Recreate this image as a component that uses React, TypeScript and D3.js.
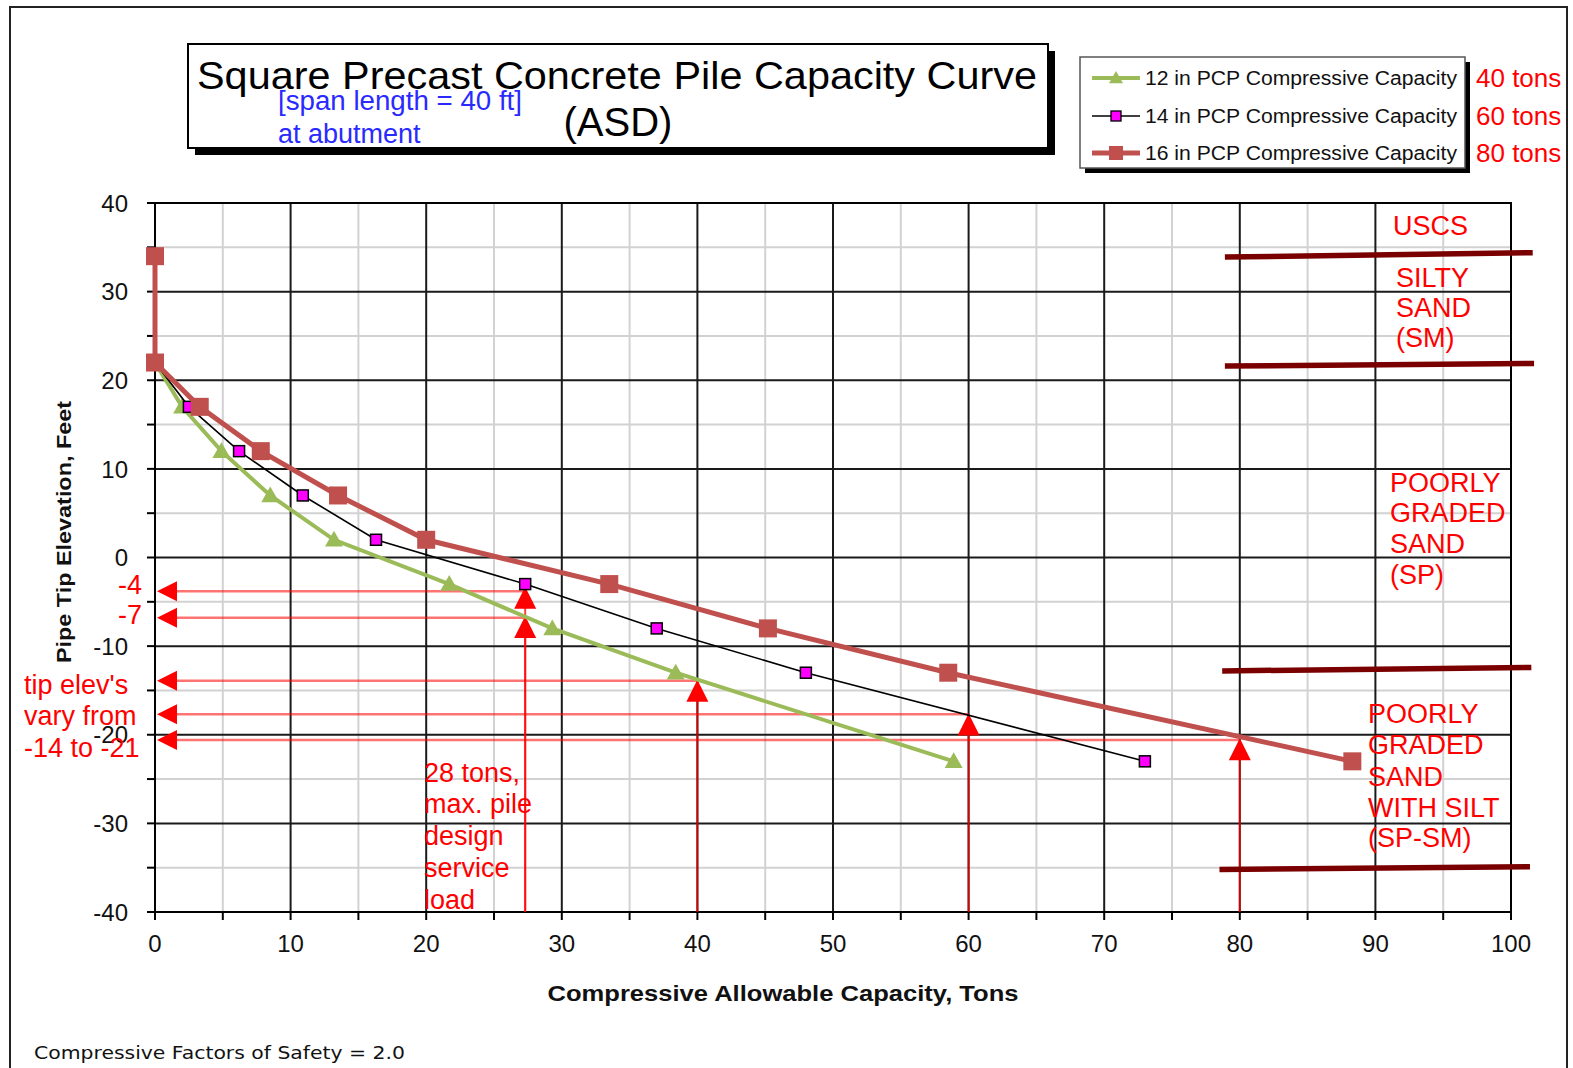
import React from "react";
import * as d3 from "d3";

const W = 1573;
const H = 1068;

// ---- data ----
const capacity12 = [0, 2.0, 4.9, 8.5, 13.2, 21.7, 29.3, 38.4, 58.9];
const elev12 = [22, 17, 12, 7, 2, -3, -8, -13, -23];
const capacity14 = [0, 2.5, 6.2, 10.9, 16.3, 27.3, 37.0, 48.0, 73.0];
const elev14 = [22, 17, 12, 7, 2, -3, -8, -13, -23];
const capacity16 = [0, 0, 3.3, 7.8, 13.5, 20.0, 33.5, 45.2, 58.5, 88.3];
const elev16 = [34, 22, 17, 12, 7, 2, -3, -8, -13, -23];

const xTicks = [0, 10, 20, 30, 40, 50, 60, 70, 80, 90, 100];
const yTicks = [-40, -30, -20, -10, 0, 10, 20, 30, 40];

const seriesNames = [
  "12 in PCP Compressive Capacity",
  "14 in PCP Compressive Capacity",
  "16 in PCP Compressive Capacity",
];
const seriesTons = ["40 tons", "60 tons", "80 tons"];

// annotation guide lines (elevation, capacity where it ends)
const guideElev = [-3.8, -6.8, -13.9, -17.7, -20.6];
const guideCap = [27.3, 27.3, 40, 60, 80];
// up arrows (capacity, tip elevation)
const upArrowCap = [27.3, 27.3, 40, 60, 80];
const upArrowElev = [-3.3, -6.6, -13.8, -17.6, -20.4];

// soil layer boundary bars [x1, y1, x2, y2]
const soilBarX1 = [78.9, 78.9, 78.7, 78.5];
const soilBarY1 = [33.9, 21.6, -12.8, -35.2];
const soilBarX2 = [101.6, 101.7, 101.5, 101.4];
const soilBarY2 = [34.4, 21.9, -12.4, -34.9];

const soilLabels = [
  "USCS", "SILTY", "SAND", "(SM)",
  "POORLY", "GRADED", "SAND", "(SP)",
  "POORLY", "GRADED", "SAND", "WITH SILT", "(SP-SM)",
];

const FONT = "'Liberation Sans', Arial, sans-serif";

export default function App() {
  const x = d3.scaleLinear().domain([0, 100]).range([155, 1511]);
  const y = d3.scaleLinear().domain([-40, 40]).range([912, 203]);

  const line = d3
    .line<[number, number]>()
    .x((d) => x(d[0]))
    .y((d) => y(d[1]));

  const s12 = capacity12.map((c, i) => [c, elev12[i]] as [number, number]);
  const s14 = capacity14.map((c, i) => [c, elev14[i]] as [number, number]);
  const s16 = capacity16.map((c, i) => [c, elev16[i]] as [number, number]);

  const minorX = d3.range(5, 100, 10);
  const majorX = d3.range(10, 100, 10);
  const minorY = d3.range(-35, 40, 10);
  const majorY = d3.range(-30, 40, 10);
  const tickX = d3.range(0, 101, 5);
  const tickY = d3.range(-40, 41, 5);

  const tri = (cx: number, cy: number, r: number) =>
    `M${cx},${cy - r} L${cx + r},${cy + r * 0.75} L${cx - r},${cy + r * 0.75} Z`;

  const red = "#ff0000";
  const c16 = "#C0504D";
  const c12 = "#9BBB59";

  const legendY = [78, 116, 153];

  const soilX = [1393, 1396, 1396, 1396, 1390, 1390, 1390, 1390, 1368, 1368, 1368, 1368, 1368];
  const soilBase = [235, 287, 317, 347, 492, 522, 553, 584, 723, 754, 786, 817, 847];

  return (
    <div style={{ position: "absolute", left: 0, top: 0 }}>
      <svg width={W} height={H} style={{ display: "block", background: "#fff" }}>
        {/* outer frame */}
        <rect x={10} y={7} width={1557} height={1100} fill="#fff" stroke="#222" strokeWidth={2} />

        {/* grid */}
        {minorX.map((v) => (
          <line key={"mx" + v} x1={x(v)} x2={x(v)} y1={y(40)} y2={y(-40)} stroke="#d2d2d2" strokeWidth={2} />
        ))}
        {minorY.map((v) => (
          <line key={"my" + v} y1={y(v)} y2={y(v)} x1={x(0)} x2={x(100)} stroke="#d2d2d2" strokeWidth={2} />
        ))}
        {majorX.map((v) => (
          <line key={"Mx" + v} x1={x(v)} x2={x(v)} y1={y(40)} y2={y(-40)} stroke="#1a1a1a" strokeWidth={2} />
        ))}
        {majorY.map((v) => (
          <line key={"My" + v} y1={y(v)} y2={y(v)} x1={x(0)} x2={x(100)} stroke="#1a1a1a" strokeWidth={2} />
        ))}
        <rect x={x(0)} y={y(40)} width={x(100) - x(0)} height={y(-40) - y(40)} fill="none" stroke="#000" strokeWidth={2} />

        {/* ticks */}
        {tickY.map((v) => (
          <line key={"ty" + v} x1={x(0) - 8} x2={x(0)} y1={y(v)} y2={y(v)} stroke="#000" strokeWidth={2} />
        ))}
        {tickX.map((v) => (
          <line key={"tx" + v} x1={x(v)} x2={x(v)} y1={y(-40)} y2={y(-40) + 8} stroke="#000" strokeWidth={2} />
        ))}
        {yTicks.map((v) => (
          <text key={"ly" + v} x={128} y={y(v)} dy="0.36em" textAnchor="end" fontFamily={FONT} fontSize={24} fill="#111">
            {v}
          </text>
        ))}
        {xTicks.map((v) => (
          <text key={"lx" + v} x={x(v)} y={952} textAnchor="middle" fontFamily={FONT} fontSize={24} fill="#111">
            {v}
          </text>
        ))}

        {/* axis titles */}
        <text x={783} y={1001} textAnchor="middle" fontFamily={FONT} fontSize={22} fontWeight="bold" fill="#111" textLength={471} lengthAdjust="spacingAndGlyphs">
          Compressive Allowable Capacity, Tons
        </text>
        <text transform="translate(71,532) rotate(-90)" textAnchor="middle" fontFamily={FONT} fontSize={21} fontWeight="bold" fill="#111" textLength={262} lengthAdjust="spacingAndGlyphs">
          Pipe Tip Elevation, Feet
        </text>
        <text x={34} y={1059} fontFamily="'DejaVu Sans', Verdana, sans-serif" fontSize={18} fill="#111" textLength={371} lengthAdjust="spacingAndGlyphs">
          Compressive Factors of Safety = 2.0
        </text>

        {/* red guide lines */}
        {guideElev.map((e, i) => (
          <line key={"g" + i} x1={x(0.8)} x2={x(guideCap[i])} y1={y(e)} y2={y(e)} stroke={red} strokeOpacity={0.55} strokeWidth={2.5} />
        ))}
        {guideElev.map((e, i) => (
          <path key={"la" + i} d={`M${x(0) + 2},${y(e)} L${x(0) + 22},${y(e) - 10} L${x(0) + 22},${y(e) + 10} Z`} fill={red} />
        ))}
        {upArrowCap.map((c, i) => (
          <line key={"uv" + i} x1={x(c)} x2={x(c)} y1={y(-40)} y2={y(upArrowElev[i]) + 10} stroke={red} strokeOpacity={0.75} strokeWidth={2} />
        ))}
        {upArrowCap.map((c, i) => (
          <path key={"ua" + i} d={`M${x(c)},${y(upArrowElev[i])} L${x(c) + 11},${y(upArrowElev[i]) + 22} L${x(c) - 11},${y(upArrowElev[i]) + 22} Z`} fill={red} />
        ))}

        {/* soil boundary bars */}
        {soilBarX1.map((v, i) => (
          <line key={"sb" + i} x1={x(v)} y1={y(soilBarY1[i])} x2={x(soilBarX2[i])} y2={y(soilBarY2[i])} stroke="#7a0000" strokeWidth={5.5} />
        ))}

        {/* series */}
        <path d={line(s12) || ""} fill="none" stroke={c12} strokeWidth={4} />
        {s12.map((d, i) => (
          <path key={"m12" + i} d={tri(x(d[0]), y(d[1]), 9)} fill={c12} />
        ))}
        <path d={line(s14) || ""} fill="none" stroke="#000" strokeWidth={1.6} />
        {s14.map((d, i) => (
          <rect key={"m14" + i} x={x(d[0]) - 5.5} y={y(d[1]) - 5.5} width={11} height={11} fill="#ff00ff" stroke="#000" strokeWidth={1.5} />
        ))}
        <path d={line(s16) || ""} fill="none" stroke={c16} strokeWidth={5} />
        {s16.map((d, i) => (
          <rect key={"m16" + i} x={x(d[0]) - 9} y={y(d[1]) - 9} width={18} height={18} fill={c16} />
        ))}

        {/* red annotation text */}
        <g fontFamily={FONT} fontSize={27} fill={red}>
          <text x={142} y={594} textAnchor="end">-4</text>
          <text x={142} y={624} textAnchor="end">-7</text>
          <text x={24} y={694}>tip elev's</text>
          <text x={24} y={725}>vary from</text>
          <text x={24} y={757}>-14 to -21</text>
          <text x={424} y={782}>28 tons,</text>
          <text x={424} y={813}>max. pile</text>
          <text x={424} y={845}>design</text>
          <text x={424} y={877}>service</text>
          <text x={424} y={909}>load</text>
          {soilLabels.map((t, i) => (
            <text key={"sl" + i} x={soilX[i]} y={soilBase[i]}>{t}</text>
          ))}
        </g>

        {/* title box */}
        <rect x={195} y={51} width={860} height={104} fill="#000" />
        <rect x={188} y={44} width={860} height={104} fill="#fff" stroke="#000" strokeWidth={2} />
        <text x={197} y={89} fontFamily={FONT} fontSize={39} fill="#000" textLength={840} lengthAdjust="spacingAndGlyphs">
          Square Precast Concrete Pile Capacity Curve
        </text>
        <text x={618} y={136} textAnchor="middle" fontFamily={FONT} fontSize={40} fill="#000">
          (ASD)
        </text>
        <text x={278} y={110} fontFamily={FONT} fontSize={27} fill="#2a2aff" textLength={244} lengthAdjust="spacingAndGlyphs">
          [span length = 40 ft]
        </text>
        <text x={278} y={143} fontFamily={FONT} fontSize={27} fill="#2a2aff">
          at abutment
        </text>

        {/* legend */}
        <rect x={1085} y={62} width={385} height={111} fill="#000" />
        <rect x={1080} y={57} width={385} height={111} fill="#fff" stroke="#555" strokeWidth={1.5} />
        {seriesNames.map((n, i) => {
          const ly = legendY[i];
          return (
            <g key={"lg" + i}>
              {i === 0 && (
                <>
                  <line x1={1092} x2={1140} y1={ly} y2={ly} stroke={c12} strokeWidth={4} />
                  <path d={tri(1116, ly, 7)} fill={c12} />
                </>
              )}
              {i === 1 && (
                <>
                  <line x1={1092} x2={1140} y1={ly} y2={ly} stroke="#000" strokeWidth={1.6} />
                  <rect x={1111} y={ly - 5} width={10} height={10} fill="#ff00ff" stroke="#000" strokeWidth={1.3} />
                </>
              )}
              {i === 2 && (
                <>
                  <line x1={1092} x2={1140} y1={ly} y2={ly} stroke={c16} strokeWidth={5} />
                  <rect x={1109} y={ly - 7} width={14} height={14} fill={c16} />
                </>
              )}
              <text x={1145} y={ly + 7} fontFamily={FONT} fontSize={20} fill="#111" textLength={312} lengthAdjust="spacingAndGlyphs">
                {n}
              </text>
              <text x={1476} y={ly + 9} fontFamily={FONT} fontSize={26} fill={red}>
                {seriesTons[i]}
              </text>
            </g>
          );
        })}
      </svg>
    </div>
  );
}
